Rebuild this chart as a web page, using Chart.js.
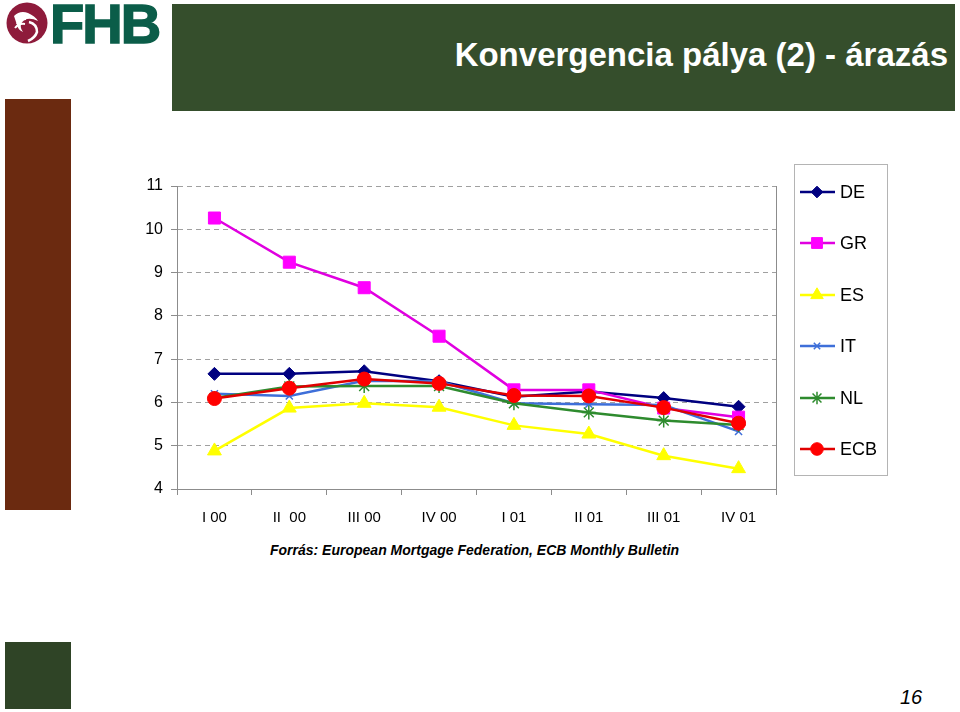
<!DOCTYPE html>
<html><head><meta charset="utf-8">
<script src="https://cdn.jsdelivr.net/npm/chart.js@4.4.1/dist/chart.umd.min.js"></script>
<style>
html,body{margin:0;padding:0;background:#fff;}
body{width:960px;height:712px;position:relative;overflow:hidden;font-family:"Liberation Sans",Arial,sans-serif;}
#hdr{position:absolute;left:172px;top:4px;width:783px;height:107px;background:#354E2C;}
#title{position:absolute;right:7px;top:34px;line-height:33px;color:#fff;font-weight:bold;font-size:33px;white-space:nowrap;}
#brown{position:absolute;left:5px;top:99px;width:66px;height:411px;background:#6B2A10;}
#green{position:absolute;left:5px;top:642px;width:66px;height:67px;background:#2F4426;}
#fhb{position:absolute;left:50px;top:-4px;line-height:56px;font-size:56px;font-weight:bold;color:#0B5D49;letter-spacing:-2px;-webkit-text-stroke:1.5px #0B5D49;white-space:nowrap;}
#logo{position:absolute;left:5px;top:2px;}
#src{position:absolute;left:270px;top:542px;line-height:16px;font-style:italic;font-weight:bold;font-size:14px;white-space:nowrap;color:#000;}
#pg{position:absolute;left:900px;top:686px;font-style:italic;font-size:20px;color:#000;}
#wrap{position:absolute;left:0;top:0;width:960px;height:712px;}
</style></head>
<body>
<div id="hdr"><div id="title">Konvergencia pálya (2) - árazás</div></div>
<svg id="logo" width="44" height="44" viewBox="0 0 44 44">
  <circle cx="22" cy="21" r="20.5" fill="#8E1B3B"/>
  <path d="M9 14 q6 -6 14 -3 q7 3 10 8 q-6 -3 -11 -2 q-4 1 -6 5 q-1 4 2 8 q-5 -2 -6 -7 z" fill="#fff"/>
  <path d="M12 22 q3 -5 9 -5" stroke="#fff" stroke-width="2" fill="none"/>
  <path d="M10 26 q4 -5 10 -4" stroke="#fff" stroke-width="2" fill="none"/>
  <path d="M24 20 q8 2 8 10 q-2 6 -9 9" stroke="#fff" stroke-width="2.5" fill="none"/>
</svg>
<div id="fhb">FHB</div>
<div id="brown"></div>
<div id="green"></div>
<div id="src">Forrás: European Mortgage Federation, ECB Monthly Bulletin</div>
<div id="pg">16</div>
<div id="wrap"><canvas id="c" width="960" height="712"></canvas></div>
<script>
const categories = ["I 00","II  00","III 00","IV 00","I 01","II 01","III 01","IV 01"];
const seriesNames = ["DE","GR","ES","IT","NL","ECB"];
const DE  = [6.66,6.66,6.72,6.49,6.13,6.25,6.10,5.90];
const GR  = [10.26,9.24,8.65,7.53,6.29,6.29,5.87,5.66];
const ES  = [4.88,5.87,5.98,5.89,5.47,5.27,4.77,4.47];
const IT  = [6.20,6.15,6.50,6.49,5.98,5.96,5.94,5.33];
const NL  = [6.10,6.37,6.38,6.38,5.98,5.77,5.58,5.48];
const ECB = [6.09,6.33,6.54,6.44,6.16,6.15,5.88,5.52];
const yTicks = [4,5,6,7,8,9,10,11];

const FONT = '"Liberation Sans", Arial, sans-serif';
const styles = [
  {line:'#000080', fill:'#000080', ps:'rectRot',  r:6.5, bw:1},
  {line:'#E000E0', fill:'#FF00FF', ps:'rect',     r:8.5, bw:1},
  {line:'#FFFF00', fill:'#FFFF00', ps:'triangle', r:8,   bw:1},
  {line:'#3E6FD9', fill:'#3E6FD9', ps:'crossRot', r:5,   bw:1.5},
  {line:'#2E8B2E', fill:'#2E8B2E', ps:'star',     r:7,   bw:1.5},
  {line:'#E00000', fill:'#FF0000', ps:'circle',   r:7,   bw:1}
];
const values = [DE, GR, ES, IT, NL, ECB];

const datasets = seriesNames.map((n,i)=>({
  label:n, data:values[i],
  borderColor:styles[i].line, backgroundColor:styles[i].fill,
  borderWidth:2.5,
  pointStyle:styles[i].ps, pointRadius:styles[i].r, pointHoverRadius:styles[i].r,
  pointBackgroundColor:styles[i].fill, pointBorderColor:styles[i].fill,
  pointBorderWidth:styles[i].bw,
  tension:0, order:5-i
}));

const extras = {
  id:'extras',
  afterDatasetsDraw(chart){
    const ctx = chart.ctx, a = chart.chartArea;
    ctx.save();
    ctx.strokeStyle = '#8C8C8C'; ctx.lineWidth = 1;
    ctx.beginPath(); ctx.moveTo(Math.round(a.right)+0.5, a.top); ctx.lineTo(Math.round(a.right)+0.5, a.bottom); ctx.stroke();
    // legend
    ctx.strokeStyle = '#B4B4B4';
    ctx.strokeRect(794.5,164.5,93,311);
    const ys = [192,243,295,346,398,449];
    chart.data.datasets.forEach((ds,i)=>{
      const y = ys[i];
      ctx.strokeStyle = ds.borderColor; ctx.lineWidth = 2.5;
      ctx.beginPath(); ctx.moveTo(800,y); ctx.lineTo(835,y); ctx.stroke();
      ctx.fillStyle = ds.pointBackgroundColor; ctx.strokeStyle = ds.pointBorderColor;
      ctx.lineWidth = ds.pointBorderWidth;
      Chart.helpers.drawPoint(ctx,{pointStyle:ds.pointStyle, radius:ds.pointRadius*0.9, borderWidth:ds.pointBorderWidth, rotation:0}, 817, y);
      ctx.fillStyle = '#000'; ctx.font = '18px ' + FONT; ctx.textBaseline = 'middle'; ctx.textAlign='left';
      ctx.fillText(ds.label, 840, y+1);
    });
    ctx.restore();
  }
};

new Chart(document.getElementById('c'), {
  type:'line',
  data:{labels:categories, datasets},
  options:{
    responsive:false, animation:false,
    layout:{padding:{left:137, right:184, top:186, bottom:173}},
    plugins:{legend:{display:false}, tooltip:{enabled:false}},
    scales:{
      x:{
        type:'category', offset:true,
        grid:{drawOnChartArea:false, drawTicks:true, tickLength:6, color:'#8C8C8C', offset:true},
        border:{display:true, color:'#8C8C8C', width:1},
        ticks:{color:'#000', font:{size:15, family:FONT}, padding:14, maxRotation:0, autoSkip:false},
        afterFit(s){ s.height = 50; }
      },
      y:{
        min:4, max:11,
        afterBuildTicks(s){ s.ticks = yTicks.map(v=>({value:v})); },
        grid:{color:'#A0A0A0', drawTicks:true, tickLength:6, tickColor:'#8C8C8C', tickBorderDash:[], lineWidth:1},
        border:{display:true, color:'#8C8C8C', width:1, dash:[5,4]},
        ticks:{color:'#000', font:{size:16, family:FONT}, padding:8},
        afterFit(s){ s.width = 40; }
      }
    }
  },
  plugins:[extras]
});
</script>
</body></html>
